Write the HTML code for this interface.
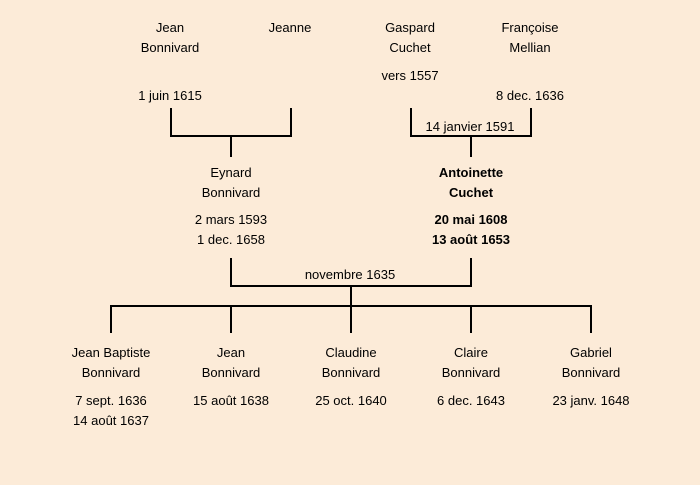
<!DOCTYPE html>
<html><head><meta charset="utf-8"><style>
html,body{margin:0;padding:0;}
body{width:700px;height:485px;background:#fcebd8;position:relative;overflow:hidden;font-family:"Liberation Sans","DejaVu Sans",sans-serif;font-size:13px;color:#000;}
.t{position:absolute;width:160px;text-align:center;line-height:20px;white-space:nowrap;margin-top:1px;}
.b{font-weight:bold;}
.l{position:absolute;background:#000;}
</style></head><body>
<div class="t" style="left:90px;top:17px">Jean<br>Bonnivard</div>
<div class="t" style="left:210px;top:17px">Jeanne</div>
<div class="t" style="left:330px;top:17px">Gaspard<br>Cuchet</div>
<div class="t" style="left:450px;top:17px">Françoise<br>Mellian</div>
<div class="t" style="left:330px;top:65px">vers 1557</div>
<div class="t" style="left:90px;top:85px">1 juin 1615</div>
<div class="t" style="left:450px;top:85px">8 dec. 1636</div>

<div class="l" style="left:170px;top:108px;width:2px;height:29px"></div>
<div class="l" style="left:290px;top:108px;width:2px;height:29px"></div>
<div class="l" style="left:170px;top:135px;width:122px;height:2px"></div>
<div class="l" style="left:230px;top:135px;width:2px;height:22px"></div>

<div class="l" style="left:410px;top:108px;width:2px;height:29px"></div>
<div class="l" style="left:530px;top:108px;width:2px;height:29px"></div>
<div class="l" style="left:410px;top:135px;width:122px;height:2px"></div>
<div class="l" style="left:470px;top:135px;width:2px;height:22px"></div>
<div class="t" style="left:390px;top:116px">14 janvier 1591</div>

<div class="t" style="left:151px;top:162px">Eynard<br>Bonnivard</div>
<div class="t" style="left:151px;top:209px">2 mars 1593<br>1 dec. 1658</div>
<div class="t b" style="left:391px;top:162px">Antoinette<br>Cuchet</div>
<div class="t b" style="left:391px;top:209px">20 mai 1608<br>13 août 1653</div>

<div class="l" style="left:230px;top:258px;width:2px;height:29px"></div>
<div class="l" style="left:470px;top:258px;width:2px;height:29px"></div>
<div class="l" style="left:230px;top:285px;width:242px;height:2px"></div>
<div class="t" style="left:270px;top:264px">novembre 1635</div>
<div class="l" style="left:350px;top:285px;width:2px;height:22px"></div>
<div class="l" style="left:110px;top:305px;width:482px;height:2px"></div>
<div class="l" style="left:110px;top:305px;width:2px;height:28px"></div>
<div class="l" style="left:230px;top:305px;width:2px;height:28px"></div>
<div class="l" style="left:350px;top:305px;width:2px;height:28px"></div>
<div class="l" style="left:470px;top:305px;width:2px;height:28px"></div>
<div class="l" style="left:590px;top:305px;width:2px;height:28px"></div>

<div class="t" style="left:31px;top:342px">Jean Baptiste<br>Bonnivard</div>
<div class="t" style="left:31px;top:390px">7 sept. 1636<br>14 août 1637</div>
<div class="t" style="left:151px;top:342px">Jean<br>Bonnivard</div>
<div class="t" style="left:151px;top:390px">15 août 1638</div>
<div class="t" style="left:271px;top:342px">Claudine<br>Bonnivard</div>
<div class="t" style="left:271px;top:390px">25 oct. 1640</div>
<div class="t" style="left:391px;top:342px">Claire<br>Bonnivard</div>
<div class="t" style="left:391px;top:390px">6 dec. 1643</div>
<div class="t" style="left:511px;top:342px">Gabriel<br>Bonnivard</div>
<div class="t" style="left:511px;top:390px">23 janv. 1648</div>
</body></html>
